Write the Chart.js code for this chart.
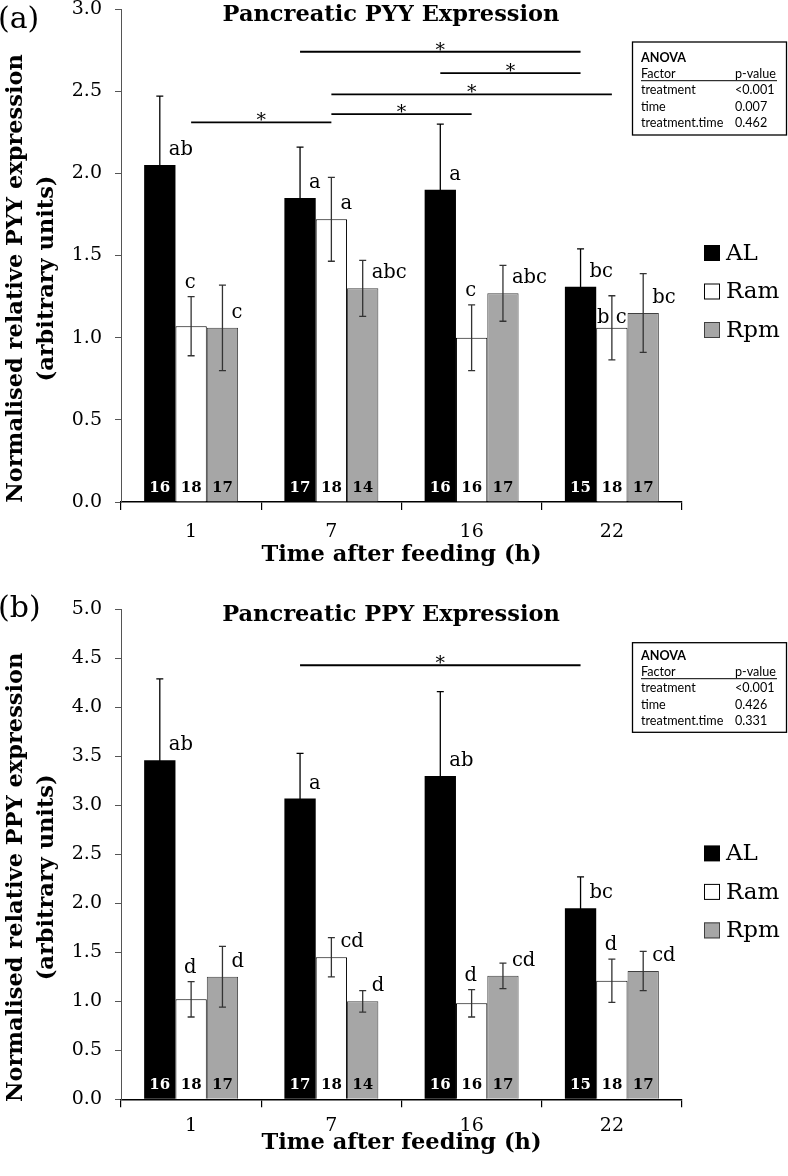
<!DOCTYPE html>
<html><head><meta charset="utf-8">
<script src="https://cdn.jsdelivr.net/npm/chart.js@4/dist/chart.umd.min.js"></script>
<style>
html,body{margin:0;padding:0;background:#fff;width:788px;height:1176px;overflow:hidden;position:relative}
canvas{position:absolute;left:0}
#cA{top:-20px}
#cB{top:585px}
</style></head><body>
<canvas id="cA" width="788" height="605"></canvas>
<canvas id="cB" width="788" height="591"></canvas>
<script>
// ---------- data ----------
const categories = ['1', '7', '16', '22'];
const seriesNames = ['AL', 'Ram', 'Rpm'];
const yTicksPYY = ['0.0','0.5','1.0','1.5','2.0','2.5','3.0'];
const yTicksPPY = ['0.0','0.5','1.0','1.5','2.0','2.5','3.0','3.5','4.0','4.5','5.0'];

// (a) Pancreatic PYY
const pyyAL     = [2.05, 1.85, 1.90, 1.31];
const pyyALErr  = [0.42, 0.31, 0.40, 0.23];
const pyyRam    = [1.07, 1.72, 1.00, 1.06];
const pyyRamErr = [0.18, 0.255, 0.20, 0.195];
const pyyRpm    = [1.06, 1.30, 1.27, 1.15];
const pyyRpmErr = [0.26, 0.17, 0.17, 0.24];
const pyyALLetters  = ['ab', 'a', 'a', 'bc'];
const pyyRamLetters = ['c', 'a', 'c', 'b c'];
const pyyRpmLetters = ['c', 'abc', 'abc', 'bc'];
const pyyALN  = [16, 17, 16, 15];
const pyyRamN = [18, 18, 16, 18];
const pyyRpmN = [17, 14, 17, 17];
const pyySigFrom = ['1', '7', '7', '16:AL', '7:AL'];
const pyySigTo   = ['7', '16', '22', '22:AL', '22:AL'];
const pyySigY    = [2.31, 2.36, 2.48, 2.61, 2.74];
const pyyAnovaFactors = ['treatment', 'time', 'treatment.time'];
const pyyAnovaP       = ['<0.001', '0.007', '0.462'];

// (b) Pancreatic PPY
const ppyAL     = [3.46, 3.07, 3.30, 1.95];
const ppyALErr  = [0.83, 0.46, 0.86, 0.32];
const ppyRam    = [1.02, 1.45, 0.98, 1.21];
const ppyRamErr = [0.18, 0.20, 0.14, 0.22];
const ppyRpm    = [1.25, 1.00, 1.26, 1.31];
const ppyRpmErr = [0.31, 0.11, 0.13, 0.20];
const ppyALLetters  = ['ab', 'a', 'ab', 'bc'];
const ppyRamLetters = ['d', 'cd', 'd', 'd'];
const ppyRpmLetters = ['d', 'd', 'cd', 'cd'];
const ppyALN  = [16, 17, 16, 15];
const ppyRamN = [18, 18, 16, 18];
const ppyRpmN = [17, 14, 17, 17];
const ppySigFrom = ['7:AL'];
const ppySigTo   = ['22:AL'];
const ppySigY    = [4.43];
const ppyAnovaFactors = ['treatment', 'time', 'treatment.time'];
const ppyAnovaP       = ['<0.001', '0.426', '0.331'];

// ---------- layout / style (not data) ----------
const SERIF = '"DejaVu Serif", serif';
const pyyRamLetterPos = ['above', 'right', 'above', 'split'];
const ppyRamLetterPos = ['above', 'right', 'above', 'above'];
const allRight = ['right', 'right', 'right', 'right'];

const figurePlugin = {
  id: 'figure',
  afterDatasetsDraw(chart, args, o) {
    const ctx = chart.ctx, ys = chart.scales.y, xs = chart.scales.x;
    chart.data.datasets.forEach((ds, di) => {
      const meta = chart.getDatasetMeta(di);
      meta.data.forEach((bar, i) => {
        const v = ds.data[i], e = ds.errors[i];
        const yT = ys.getPixelForValue(v + e), yB = ys.getPixelForValue(v - e);
        ctx.save();
        ctx.strokeStyle = ds.errorColor; ctx.lineWidth = 1.3;
        ctx.beginPath();
        ctx.moveTo(bar.x, yT); ctx.lineTo(bar.x, yB);
        ctx.moveTo(bar.x - 3.5, yT); ctx.lineTo(bar.x + 3.5, yT);
        ctx.moveTo(bar.x - 3.5, yB); ctx.lineTo(bar.x + 3.5, yB);
        ctx.stroke();
        // significance letters
        ctx.fillStyle = '#000';
        ctx.font = '19.5px ' + SERIF;
        ctx.textBaseline = 'middle';
        const pos = ds.letterPos[i];
        if (pos === 'right') { ctx.textAlign = 'left'; ctx.fillText(ds.letters[i], bar.x + 9, bar.y - 15); }
        else if (pos === 'above') { ctx.textAlign = 'center'; ctx.fillText(ds.letters[i], bar.x - 1, yT - 14); }
        else { ctx.textAlign = 'center'; ctx.fillText(ds.letters[i], bar.x, bar.y - 10); }
        // counts
        ctx.font = 'bold 15px ' + SERIF;
        ctx.fillStyle = ds.countColor;
        ctx.textAlign = 'center';
        ctx.fillText(String(ds.counts[i]), bar.x, ys.getPixelForValue(0) - 14);
        ctx.restore();
      });
    });
    // significance brackets
    const anchorX = (a) => {
      const parts = a.split(':');
      const idx = chart.data.labels.indexOf(parts[0]);
      if (parts.length > 1) {
        const di = chart.data.datasets.findIndex(d => d.label === parts[1]);
        return chart.getDatasetMeta(di).data[idx].x;
      }
      return xs.getPixelForValue(idx);
    };
    ctx.save();
    ctx.strokeStyle = '#000'; ctx.lineWidth = 1.8; ctx.fillStyle = '#000';
    ctx.font = '19px ' + SERIF; ctx.textAlign = 'center'; ctx.textBaseline = 'alphabetic';
    o.sigFrom.forEach((f, k) => {
      const x1 = anchorX(f), x2 = anchorX(o.sigTo[k]), y = ys.getPixelForValue(o.sigY[k]);
      ctx.beginPath(); ctx.moveTo(x1, y); ctx.lineTo(x2, y); ctx.stroke();
      ctx.fillText('*', (x1 + x2) / 2, y + 4);
    });
    ctx.restore();
  },
  afterDraw(chart, args, o) {
    const ctx = chart.ctx, ca = chart.chartArea;
    ctx.save();
    ctx.fillStyle = '#000';
    // panel letter
    ctx.font = '30px ' + SERIF; ctx.textAlign = 'left'; ctx.textBaseline = 'alphabetic';
    ctx.fillText(o.panel, -2, o.panelBaseline);
    // title
    ctx.font = 'bold 22.5px ' + SERIF; ctx.textAlign = 'center';
    ctx.fillText(o.title, 391, o.titleBaseline);
    // y-axis title (two lines)
    const cy = (ca.top + ca.bottom) / 2 + 23;
    ctx.save();
    ctx.translate(16, cy); ctx.rotate(-Math.PI / 2);
    ctx.textBaseline = 'middle';
    ctx.fillText(o.yTitle[0], 0, 0);
    ctx.restore();
    ctx.save();
    ctx.translate(47.5, cy); ctx.rotate(-Math.PI / 2);
    ctx.textBaseline = 'middle';
    ctx.fillText(o.yTitle[1], 0, 0);
    ctx.restore();
    // legend
    chart.data.datasets.forEach((ds, di) => {
      const ry = ca.top + 244 + di * 38.5;
      ctx.fillStyle = ds.backgroundColor;
      ctx.fillRect(704, ry - 8, 16, 16);
      if (ds.borderWidth) {
        ctx.strokeStyle = ds.borderColor; ctx.lineWidth = 1;
        ctx.strokeRect(704.5, ry - 7.5, 15, 15);
      }
      ctx.fillStyle = '#000';
      ctx.font = '23px ' + SERIF; ctx.textAlign = 'left'; ctx.textBaseline = 'middle';
      ctx.fillText(ds.label, 726, ry + 1);
    });
    // ANOVA box
    const bx = 632.5, bw = 154, by = o.anovaTop;
    ctx.strokeStyle = '#000'; ctx.lineWidth = 1.3;
    ctx.strokeRect(bx, by, bw, o.anovaH);
    ctx.fillStyle = '#000'; ctx.textAlign = 'left'; ctx.textBaseline = 'middle';
    const r0 = by + o.anovaRow0, rs = 16.2;
    ctx.font = 'bold 12.6px Lato';
    ctx.fillText('ANOVA', 641, r0);
    ctx.font = '12.6px Lato';
    ctx.fillText('Factor', 641, r0 + rs);
    ctx.fillText('p-value', 735, r0 + rs);
    ctx.lineWidth = 1;
    ctx.beginPath(); ctx.moveTo(641, r0 + rs + 6.5); ctx.lineTo(777, r0 + rs + 6.5); ctx.stroke();
    o.anovaFactors.forEach((f, k) => {
      ctx.fillText(f, 641, r0 + rs * (k + 2));
      ctx.fillText(o.anovaP[k], 735, r0 + rs * (k + 2));
    });
    ctx.restore();
  }
};

function makeDatasets(al, alE, ram, ramE, rpm, rpmE, alL, ramL, rpmL, ramPos, alN, ramN, rpmN) {
  return [
    { label: seriesNames[0], data: al, errors: alE, letters: alL, letterPos: allRight, counts: alN, countColor: '#fff',
      errorColor: '#000000', backgroundColor: '#000000', borderWidth: 0 },
    { label: seriesNames[1], data: ram, errors: ramE, letters: ramL, letterPos: ramPos, counts: ramN, countColor: '#000',
      errorColor: '#333333', backgroundColor: '#ffffff', borderColor: '#000000', borderWidth: 1 },
    { label: seriesNames[2], data: rpm, errors: rpmE, letters: rpmL, letterPos: allRight, counts: rpmN, countColor: '#000',
      errorColor: '#333333', backgroundColor: '#a6a6a6', borderColor: '#404040', borderWidth: 1 }
  ];
}

function makeChart(id, cfg) {
  return new Chart(document.getElementById(id), {
    type: 'bar',
    data: { labels: categories, datasets: cfg.datasets },
    options: {
      responsive: false, animation: false, devicePixelRatio: 1,
      layout: { padding: { left: 0, right: 106, top: cfg.padTop, bottom: 0 } },
      datasets: { bar: { barPercentage: 1.0, categoryPercentage: 0.67 } },
      plugins: {
        legend: { display: false }, tooltip: { enabled: false },
        figure: cfg.figure
      },
      scales: {
        x: {
          offset: true,
          grid: { display: true, offset: true, drawOnChartArea: false, drawTicks: true, tickLength: 8, color: '#000', lineWidth: 1.2 },
          border: { display: true, color: '#000', width: 1.5 },
          ticks: { color: '#000', font: { family: SERIF, size: 19 }, padding: cfg.xTickPad },
          title: { display: true, text: 'Time after feeding (h)', color: '#000',
                   font: { family: SERIF, size: 22.5, weight: 'bold' }, padding: { top: 0, bottom: cfg.xTitlePad } },
          afterFit(s) { s.height = cfg.xAxisH; }
        },
        y: {
          min: 0, max: cfg.yMax,
          afterBuildTicks(s) { s.ticks = cfg.yTicks.map(t => ({ value: parseFloat(t) })); },
          ticks: { color: '#000', font: { family: SERIF, size: 19 }, padding: 13,
                   callback: (v) => cfg.yTicks.find(t => parseFloat(t) === v) },
          grid: { display: true, drawOnChartArea: false, drawTicks: true, tickLength: 6, color: '#555', lineWidth: 1 },
          border: { display: true, color: '#555', width: 1 },
          afterFit(s) { s.width = 121; }
        }
      }
    },
    plugins: [figurePlugin]
  });
}

makeChart('cA', {
  datasets: makeDatasets(pyyAL, pyyALErr, pyyRam, pyyRamErr, pyyRpm, pyyRpmErr,
                         pyyALLetters, pyyRamLetters, pyyRpmLetters, pyyRamLetterPos, pyyALN, pyyRamN, pyyRpmN),
  padTop: 29, xAxisH: 83, xTitlePad: 16.5, xTickPad: 10.5, yMax: 3, yTicks: yTicksPYY,
  figure: {
    panel: '(a)', panelBaseline: 48, title: 'Pancreatic PYY Expression', titleBaseline: 41,
    yTitle: ['Normalised relative PYY expression', '(arbitrary units)'],
    sigFrom: pyySigFrom, sigTo: pyySigTo, sigY: pyySigY,
    anovaTop: 62, anovaH: 93, anovaRow0: 16, anovaFactors: pyyAnovaFactors, anovaP: pyyAnovaP
  }
});

makeChart('cB', {
  datasets: makeDatasets(ppyAL, ppyALErr, ppyRam, ppyRamErr, ppyRpm, ppyRpmErr,
                         ppyALLetters, ppyRamLetters, ppyRpmLetters, ppyRamLetterPos, ppyALN, ppyRamN, ppyRpmN),
  padTop: 20, xAxisH: 76.7, xTitlePad: 19.5, xTickPad: 7.5, yMax: 5, yTicks: yTicksPPY,
  figure: {
    panel: '(b)', panelBaseline: 32, title: 'Pancreatic PPY Expression', titleBaseline: 36,
    yTitle: ['Normalised relative PPY expression', '(arbitrary units)'],
    sigFrom: ppySigFrom, sigTo: ppySigTo, sigY: ppySigY,
    anovaTop: 57.7, anovaH: 89.6, anovaRow0: 13.3, anovaFactors: ppyAnovaFactors, anovaP: ppyAnovaP
  }
});
</script>
</body></html>
